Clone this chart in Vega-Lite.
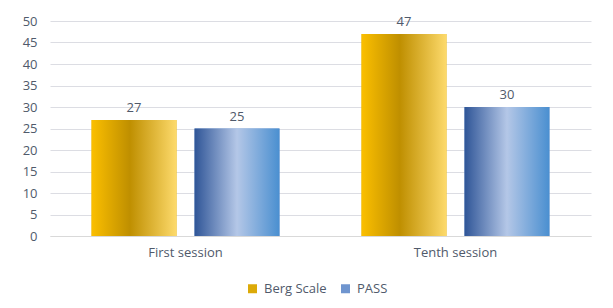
{
  "$schema": "https://vega.github.io/schema/vega-lite/v6.json",
  "width": 541,
  "height": 215,
  "autosize": {"type": "none"},
  "padding": {"left": 50, "top": 21, "right": 22, "bottom": 72},
  "background": "white",
  "data": {"values": [
    {"session": "First session", "series": "Berg Scale", "value": 27},
    {"session": "First session", "series": "PASS", "value": 25},
    {"session": "Tenth session", "series": "Berg Scale", "value": 47},
    {"session": "Tenth session", "series": "PASS", "value": 30}
  ]},
  "encoding": {
    "x": {"field": "session", "type": "nominal", "scale": {"paddingInner": 0.304, "paddingOuter": 0.154},
      "axis": {"title": null, "labelAngle": 0, "labelFont": "Open Sans", "labelFontSize": 13, "labelColor": "#505a6b", "domainColor": "#d9d9d9", "ticks": false, "labelPadding": 10}},
    "xOffset": {"field": "series", "type": "nominal", "scale": {"domain": ["Berg Scale", "PASS"], "paddingInner": 0.175}},
    "y": {"field": "value", "type": "quantitative", "scale": {"domain": [0, 50]},
      "axis": {"title": null, "values": [0,5,10,15,20,25,30,35,40,45,50], "labelFont": "Open Sans", "labelFontSize": 13, "labelColor": "#505a6b", "domain": false, "ticks": false, "gridColor": "#dcdde3", "labelPadding": 13}}
  },
  "layer": [
    {
      "mark": {"type": "bar"},
      "encoding": {
        "fill": {"field": "series", "type": "nominal",
          "scale": {"domain": ["Berg Scale", "PASS"], "range": ["#dcaa08", "#6f95cf"]},
          "legend": {"title": null, "orient": "none", "legendX": 196, "legendY": 261, "padding": 0, "direction": "horizontal", "symbolType": "square", "symbolSize": 81, "symbolOffset": 0, "labelOffset": 5, "labelFont": "Open Sans", "labelFontSize": 13, "labelColor": "#505a6b", "columnPadding": 12}
        }
      }
    },
    {
      "transform": [{"filter": "datum.series == 'Berg Scale'"}],
      "mark": {"type": "bar", "color": {"gradient": "linear", "x1": 0, "x2": 1, "y1": 0, "y2": 0, "stops": [
        {"offset": 0, "color": "#fbbf00"}, {"offset": 0.45, "color": "#bf8f00"}, {"offset": 1, "color": "#fdda6c"}]}}
    },
    {
      "transform": [{"filter": "datum.series == 'PASS'"}],
      "mark": {"type": "bar", "color": {"gradient": "linear", "x1": 0, "x2": 1, "y1": 0, "y2": 0, "stops": [
        {"offset": 0, "color": "#2f5597"}, {"offset": 0.5, "color": "#b4c7e7"}, {"offset": 1, "color": "#4a8fd0"}]}}
    },
    {
      "mark": {"type": "text", "dy": -12, "font": "Open Sans", "fontSize": 13, "color": "#505a6b"},
      "encoding": {"text": {"field": "value", "type": "quantitative"}}
    }
  ],
  "config": {"view": {"stroke": null}}
}
